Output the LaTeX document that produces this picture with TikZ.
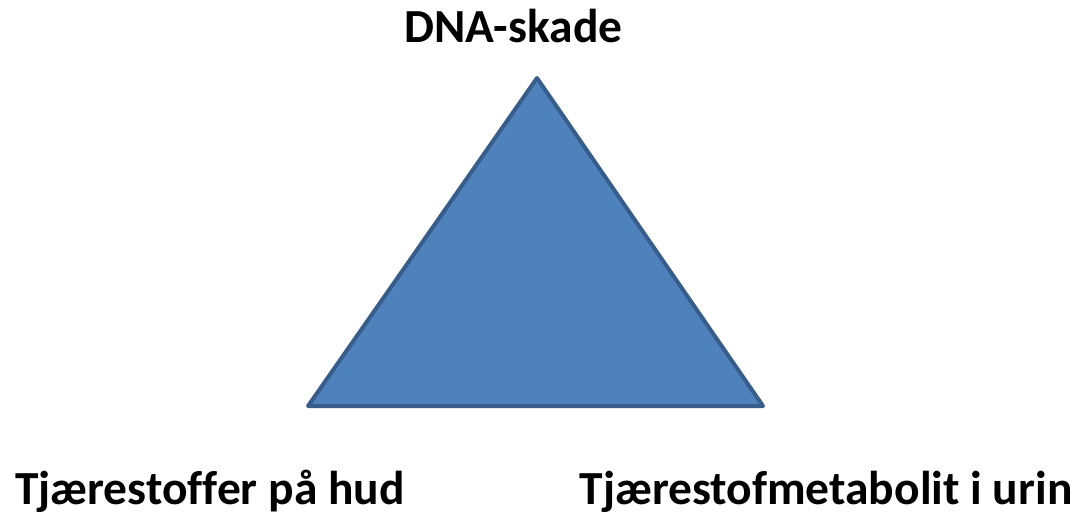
\documentclass[tikz,border=0pt]{standalone}
\usepackage{fontspec}
\setmainfont[Ligatures=NoCommon]{Carlito}
\definecolor{triFill}{HTML}{4F81BD}
\definecolor{triLine}{HTML}{385D8A}
\tikzset{lbl/.style={font=\bfseries\fontsize{47.5}{56}\selectfont, anchor=base, inner sep=0pt}}
\begin{document}
\begin{tikzpicture}[x=1pt,y=-1pt]
\useasboundingbox (0,0) rectangle (1086,519);
\coordinate (top) at (537,78);
\coordinate (bl) at (308,406);
\coordinate (br) at (763,406);
\filldraw[fill=triFill, draw=triLine, line width=4pt, line join=round] (top) -- (br) -- (bl) -- cycle;
\node[lbl] (dna) at (513.5,42) {DNA-skade};
\node[lbl] (hud) at (210,504) {Tjærestoffer på hud};
\node[lbl] (urin) at (826,504) {Tjærestofmetabolit i urin};
\end{tikzpicture}
\end{document}
